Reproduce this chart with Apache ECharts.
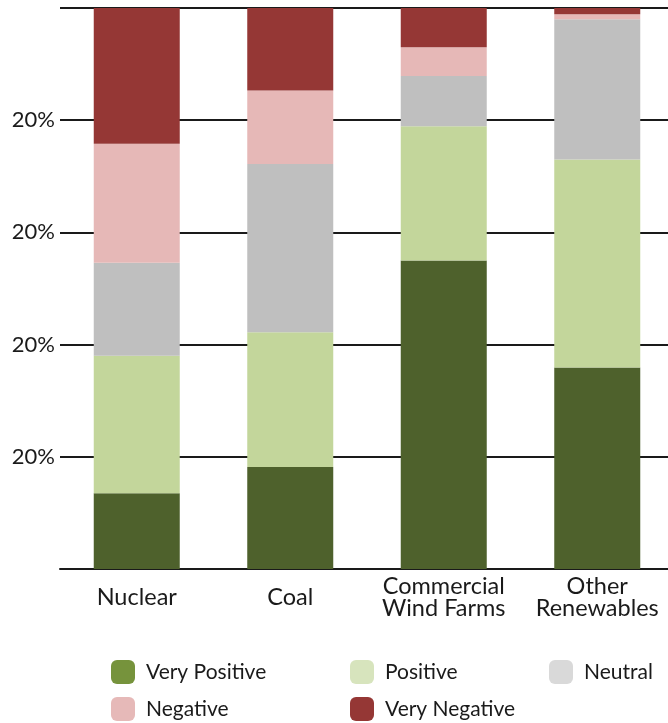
<!DOCTYPE html>
<html>
<head>
<meta charset="utf-8">
<script src="https://cdn.jsdelivr.net/npm/echarts@6/dist/echarts.min.js"></script>
<style>
html,body{margin:0;padding:0;background:#fff;overflow:hidden;width:668px;height:723px;}
#c{width:676px;height:723px;}
</style>
</head>
<body>
<div id="c"></div>
<script>
var categories = ['Nuclear', 'Coal', 'Commercial\nWind Farms', 'Other\nRenewables'];
var veryPositive = [13.5, 18.2, 55.0, 35.9];
var positive     = [24.5, 24.0, 23.9, 37.1];
var neutral      = [16.6, 30.0, 9.0, 25.0];
var negative     = [21.2, 13.1, 5.1, 0.9];
var veryNegative = [24.2, 14.7, 7.0, 1.1];
var yTickLabels = ['', '20%', '20%', '20%', '20%', ''];
var seriesNames = ['Very Positive', 'Positive', 'Neutral', 'Negative', 'Very Negative'];
var barColors = ['#4e612c', '#c3d69b', '#bfbfbf', '#e6b8b7', '#953735'];
var legendColors = ['#76933c', '#d7e4bd', '#d9d9d9', '#e6b9b8', '#953735'];

var FONT = 'Lato';
var chart = echarts.init(document.getElementById('c'));
var values = [veryPositive, positive, neutral, negative, veryNegative];
var series = seriesNames.map(function (n, i) {
  return { name: n, type: 'bar', stack: 'all', data: values[i], barWidth: 86, itemStyle: { color: barColors[i] } };
});
var legendPos = [[111, 660], [350, 660], [549, 660], [111, 697], [350, 697]];
var legends = seriesNames.map(function (n, i) {
  return {
    left: legendPos[i][0], top: legendPos[i][1], padding: 0,
    itemWidth: 24, itemHeight: 24,
    textStyle: { fontFamily: FONT, fontSize: 21, color: '#1a1a1a', padding: [0, 0, 0, 6] },
    data: [{ name: n, itemStyle: { color: legendColors[i] } }]
  };
});
chart.setOption({
  animation: false,
  grid: { left: 60, right: 2, top: 8, bottom: 154, containLabel: false },
  xAxis: {
    type: 'category', data: categories,
    axisLine: { show: true, lineStyle: { color: '#1a1a1a', width: 2 } },
    axisTick: { show: false },
    axisLabel: { interval: 0, fontFamily: FONT, fontSize: 23.5, color: '#1a1a1a', margin: 28, verticalAlign: 'middle', lineHeight: 22 }
  },
  yAxis: {
    type: 'value', min: 0, max: 100, interval: 20,
    axisLine: { show: false }, axisTick: { show: false },
    splitLine: { show: true, lineStyle: { color: '#1a1a1a', width: 2 } },
    axisLabel: {
      fontFamily: FONT, fontSize: 22, color: '#1a1a1a', margin: 5,
      formatter: function (v) { return yTickLabels[Math.round(v / 20)]; }
    }
  },
  legend: legends,
  series: series
});
</script>
</body>
</html>
